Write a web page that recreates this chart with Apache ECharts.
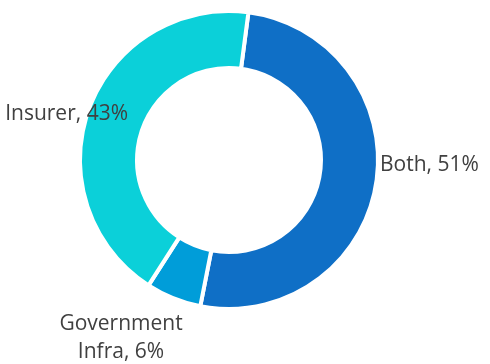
<!DOCTYPE html>
<html>
<head>
<meta charset="utf-8">
<script src="https://cdn.jsdelivr.net/npm/echarts@6/dist/echarts.min.js"></script>
<style>
  html, body { margin: 0; padding: 0; background: #fff; }
  #chart { width: 490px; height: 364px; }
</style>
</head>
<body>
<div id="chart"></div>
<script>
// Share of funding by source
const categories = ['Both', 'Government\nInfra', 'Insurer'];
const shares = [51, 6, 43];
const colors = ['#0F6FC6', '#009DD9', '#0BD0D9'];

// Label anchor per slice: [x, y, horizontal alignment]
const labelAnchors = [
  [380, 165, 'left'],
  [121, 338, 'center'],
  [128, 114, 'right']
];

const chart = echarts.init(document.getElementById('chart'), null, { renderer: 'canvas' });

chart.setOption({
  animation: false,
  series: [{
    type: 'pie',
    center: [229, 160],
    radius: [92, 149],
    startAngle: 82.5,
    clockwise: true,
    avoidLabelOverlap: false,
    itemStyle: { borderColor: '#fff', borderWidth: 4 },
    label: {
      show: true,
      position: 'outside',
      formatter: p => p.name + ', ' + p.value + '%',
      fontFamily: 'Open Sans',
      fontSize: 21,
      color: '#404040',
      lineHeight: 28,
      align: 'center'
    },
    labelLine: { show: false },
    labelLayout: p => {
      const a = labelAnchors[p.dataIndex];
      return { x: a[0], y: a[1], align: a[2], verticalAlign: 'middle' };
    },
    data: categories.map((c, i) => ({
      name: c,
      value: shares[i],
      itemStyle: { color: colors[i] }
    }))
  }]
});
</script>
</body>
</html>
